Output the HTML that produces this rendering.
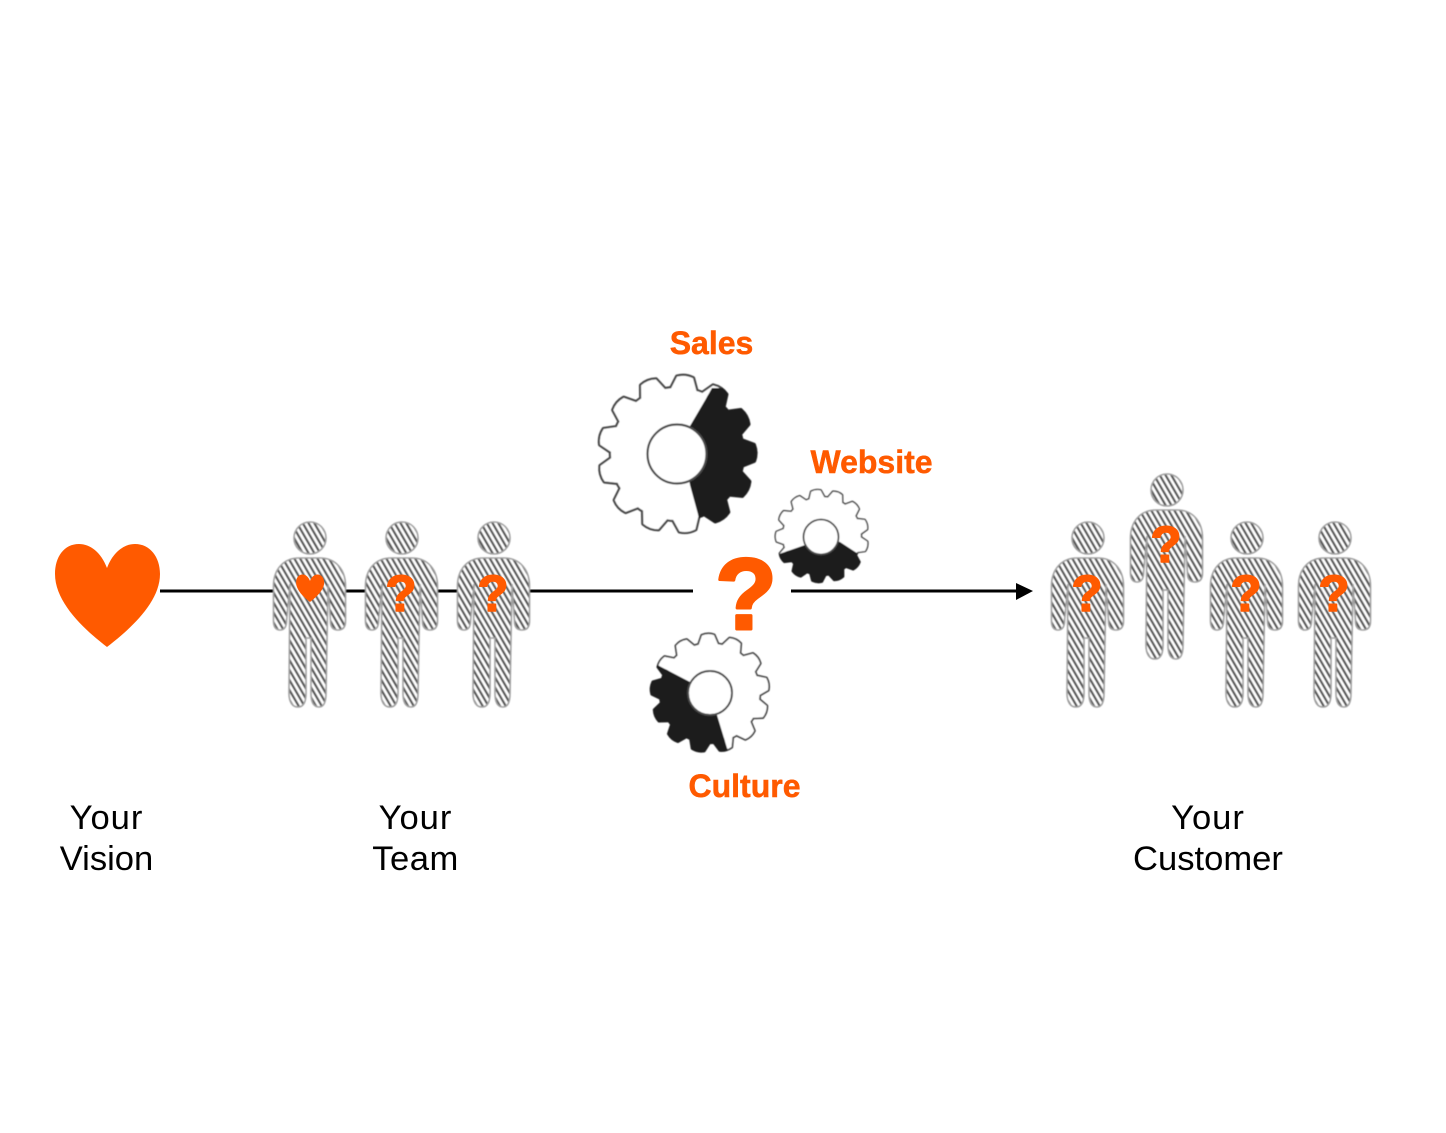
<!DOCTYPE html>
<html><head><meta charset="utf-8"><style>
html,body{margin:0;padding:0;background:#fff}
svg{display:block}
text{font-family:"Liberation Sans",sans-serif}
.l{font-size:34.6px;fill:#000;text-anchor:middle}
.o{font-size:32px;font-weight:bold;fill:#ff5a00;text-anchor:middle;stroke:#ff5a00;stroke-width:.5}
.q{font-size:51px;font-weight:bold;fill:#ff5a00;text-anchor:middle;stroke:#ff5a00;stroke-width:1.6;stroke-linejoin:round}
</style></head><body>
<svg width="1446" height="1133" viewBox="0 0 1446 1133" xmlns="http://www.w3.org/2000/svg">
<defs>
<filter id="b" x="-5%" y="-5%" width="110%" height="110%"><feGaussianBlur stdDeviation="0.4"/></filter>
<pattern id="h" width="5" height="5" patternUnits="userSpaceOnUse" patternTransform="rotate(-30)">
<rect width="5" height="5" fill="#fff"/><rect width="2.3" height="5" fill="#555"/>
</pattern>
<g id="p">
<circle cx="0" cy="0" r="16"/>
<path d="M-11,20 L10,20 C26,20 35.5,32 35.5,48 L35.5,83 C35.5,90 32,92 28,92 C23,92 20.5,89 20.5,83 L18,46 L16,155 C16,165 13,169 9,169 C4,169 1,165 1,155 L1,100 L-4,100 L-4,155 C-4,165 -7,169 -12,169 C-17,169 -21,165 -21,155 L-20,46 L-23.5,83 C-23.5,89 -26,92 -30,92 C-34,92 -36.5,89 -36.5,83 L-36.5,48 C-36.5,32 -27,20 -11,20 Z"/>
</g>
<path id="t" d="M-13,-64 L-8,-77 Q0,-80 8,-77 L13,-64 Z"/>
<g id="gear" stroke-linejoin="round">
<circle r="66"/>
<use href="#t" transform="rotate(6)"/><use href="#t" transform="rotate(33.7)"/><use href="#t" transform="rotate(61.4)"/><use href="#t" transform="rotate(89.1)"/><use href="#t" transform="rotate(116.8)"/><use href="#t" transform="rotate(144.5)"/><use href="#t" transform="rotate(172.2)"/><use href="#t" transform="rotate(199.8)"/><use href="#t" transform="rotate(227.5)"/><use href="#t" transform="rotate(255.2)"/><use href="#t" transform="rotate(282.9)"/><use href="#t" transform="rotate(310.6)"/><use href="#t" transform="rotate(338.3)"/>
</g>
<clipPath id="c1"><polygon points="707,397 712,388 800,388 800,545 705,540 690,485 685,454 690,426"/></clipPath>
<clipPath id="c2"><polygon points="782,553 760,562 760,600 880,600 880,569 863,557 840,542 821,537 805,545"/></clipPath>
<clipPath id="c3"><polygon points="667,670 640,656 630,770 733,770 727,748 717,715 705,690 690,682"/></clipPath>
</defs>

<rect width="1446" height="1133" fill="#fff"/>

<line x1="160" y1="591" x2="693" y2="591" stroke="#000" stroke-width="3"/>
<line x1="791" y1="591" x2="1018" y2="591" stroke="#000" stroke-width="3"/>
<polygon points="1016,583 1033,591 1016,600" fill="#000"/>

<path d="M107,568 C101,552 90,544 79,544 C64,544 55,557 55,574 C55,603 85,630 107,647 C129,630 160,603 160,574 C160,557 150,544 135,544 C124,544 113,552 107,568Z" fill="#ff5a00"/>

<g fill="url(#h)" stroke="#a0a0a0" stroke-width="1.6" filter="url(#b)">
<use href="#p" transform="translate(310,538)"/>
<use href="#p" transform="translate(402,538)"/>
<use href="#p" transform="translate(494,538)"/>
<use href="#p" transform="translate(1088,538)"/>
<use href="#p" transform="translate(1167,490)"/>
<use href="#p" transform="translate(1247,538)"/>
<use href="#p" transform="translate(1335,538)"/>
</g>

<path transform="translate(310,602) scale(.267) translate(-107,-647)" d="M107,568 C101,552 90,544 79,544 C64,544 55,557 55,574 C55,603 85,630 107,647 C129,630 160,603 160,574 C160,557 150,544 135,544 C124,544 113,552 107,568Z" fill="#ff5a00"/>
<text class="q" x="401" y="611">?</text>
<text class="q" x="493" y="611">?</text>
<text class="q" x="1087" y="611">?</text>
<text class="q" x="1166" y="562">?</text>
<text class="q" x="1246" y="611">?</text>
<text class="q" x="1334" y="611">?</text>
<text x="746" y="629" font-size="101" font-weight="bold" fill="#ff5a00" stroke="#ff5a00" stroke-width="3" stroke-linejoin="round" text-anchor="middle">?</text>

<g filter="url(#b)">
<!-- Sales gear -->
<use href="#gear" transform="translate(677,454)" fill="#4a4a4a" stroke="#4a4a4a" stroke-width="4.4"/>
<use href="#gear" transform="translate(677,454)" fill="#fff" stroke="none"/>
<g clip-path="url(#c1)"><use href="#gear" transform="translate(677,454)" fill="#1c1c1c" stroke="#1c1c1c" stroke-width="3.4"/></g>
<circle cx="677" cy="454" r="29.5" fill="#fff" stroke="#4a4a4a" stroke-width="2.2"/>

<!-- Website gear -->
<use href="#gear" transform="translate(822,536) scale(.5875) rotate(14)" fill="#4a4a4a" stroke="#4a4a4a" stroke-width="5"/>
<use href="#gear" transform="translate(822,536) scale(.5875) rotate(14)" fill="#fff" stroke="none"/>
<g clip-path="url(#c2)"><use href="#gear" transform="translate(822,536) scale(.5875) rotate(14)" fill="#1c1c1c" stroke="#1c1c1c" stroke-width="4"/></g>
<circle cx="821" cy="537" r="17.5" fill="#fff" stroke="#4a4a4a" stroke-width="1.8"/>

<!-- Culture gear -->
<use href="#gear" transform="translate(710,693) scale(.75) rotate(-8)" fill="#4a4a4a" stroke="#4a4a4a" stroke-width="4.6"/>
<use href="#gear" transform="translate(710,693) scale(.75) rotate(-8)" fill="#fff" stroke="none"/>
<g clip-path="url(#c3)"><use href="#gear" transform="translate(710,693) scale(.75) rotate(-8)" fill="#1c1c1c" stroke="#1c1c1c" stroke-width="3.6"/></g>
<circle cx="710" cy="693" r="22" fill="#fff" stroke="#4a4a4a" stroke-width="2"/>
</g>

<text class="o" x="711.5" y="354">Sales</text>
<text class="o" x="871.5" y="473">Website</text>
<text class="o" x="744.5" y="797">Culture</text>

<text class="l" x="106.5" y="829" letter-spacing="1">Your</text>
<text class="l" x="106.5" y="870">Vision</text>
<text class="l" x="415.5" y="829" letter-spacing="1">Your</text>
<text class="l" x="415.5" y="870" letter-spacing=".5">Team</text>
<text class="l" x="1208" y="829" letter-spacing="1">Your</text>
<text class="l" x="1208" y="870">Customer</text>
</svg>
</body></html>
